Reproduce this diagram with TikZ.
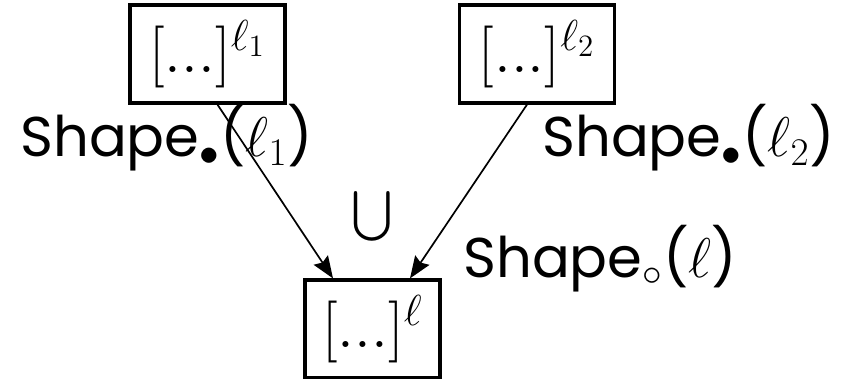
\RequirePackage{fix-cm}
\documentclass[tikz,border=0pt]{standalone}
\usepackage{amsmath}
\usepackage{fontspec}
\newfontfamily\shapefont{Poppins}
\usepackage{tikz}
\usetikzlibrary{arrows.meta,positioning}

\tikzset{
  labbox/.style={draw,line width=1.6pt,minimum width=77.5pt,minimum height=49pt,inner sep=0pt,
    font=\fontsize{31}{36}\selectfont},
  shlab/.style={anchor=base west,inner sep=0pt},
  flow/.style={->,line width=0.85pt}
}

\begin{document}
\begin{tikzpicture}[x=0.5pt,y=-0.5pt,font=\fontsize{28}{32}\selectfont\shapefont,
    >={Stealth[length=11pt,width=8.5pt,inset=1.5pt]}]
  \useasboundingbox (0,0) rectangle (844,379);
  \node[labbox] (tl) at (207.5,54) {$[...]^{\ell_1}$};
  \node[labbox] (tr) at (537,54) {$[...]^{\ell_2}$};
  \node[labbox,minimum width=67.5pt] (bt) at (372.5,329) {$[...]^{\ell}$};
  % shape labels
  \node[shlab] (sl) at (20,157) {Shape$_\bullet$($\ell_1$)};
  \node[shlab] (sr) at (542,157) {Shape$_\bullet$($\ell_2$)};
  \node[shlab] (sb) at (463,277) {Shape$_\circ$($\ell$)};
  \node[inner sep=0pt,font=\fontsize{31}{36}\selectfont] (un) at (372,216) {$\bigcup$};
  \draw[flow] ([xshift=5pt]tl.south) -- ([xshift=-19.75pt]bt.north);
  \draw[flow] ([xshift=-5pt]tr.south) -- ([xshift=18.75pt]bt.north);
\end{tikzpicture}
\end{document}
